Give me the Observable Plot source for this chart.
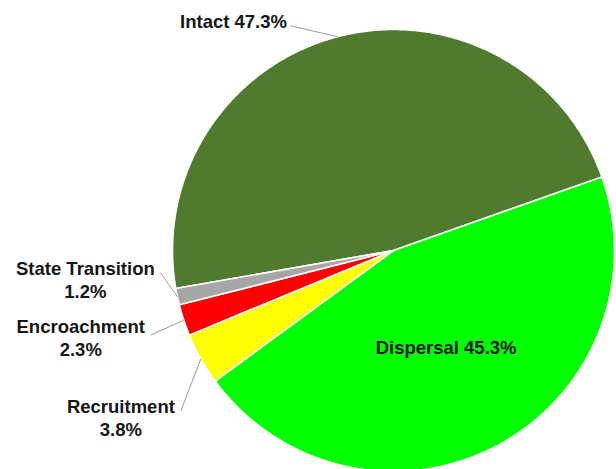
<!DOCTYPE html>
<html>
<head>
<meta charset="utf-8">
<script src="https://cdn.jsdelivr.net/npm/d3@7"></script>
<script src="https://cdn.jsdelivr.net/npm/@observablehq/plot@0.6"></script>
<style>
  html, body { margin: 0; padding: 0; background: #ffffff; overflow: hidden; }
  #chart { width: 616px; height: 469px; }
</style>
</head>
<body>
<div id="chart"></div>
<script>
// ---- data ----
const categories = ["Intact", "Dispersal", "Recruitment", "Encroachment", "State Transition"];
const percents = [47.3, 45.3, 3.8, 2.3, 1.2];
const labelTexts = ["Intact 47.3%", "Dispersal 45.3%", "Recruitment\n3.8%", "Encroachment\n2.3%", "State Transition\n1.2%"];
const sliceColors = ["#507a2e", "#00ff00", "#ffff00", "#ff0000", "#a6a6a6"];

// ---- layout ----
const W = 616, H = 469;
const CX = 393, CY = 250, R = 221;
const START_DEG = 260.1;
// label placement relative to the slice's outer midpoint, in pixels: text centre (tx,ty), leader start (lx,ly)
const labelLayout = {
  "Intact":           {tx: -104, ty: -16, lx: -47, ly: -11},
  "Recruitment":      {tx: -80,  ty: 58,  lx: -20, ly: 52},
  "Encroachment":     {tx: -103, ty: 17,  lx: -33, ly: 15},
  "State Transition": {tx: -92,  ty: -18, lx: -17, ly: -24}
};

const rows = categories.map((name, i) => ({name, value: percents[i], label: labelTexts[i]}));
const start = START_DEG * Math.PI / 180;
const arcs = d3.pie().sort(null).value(d => d.value).startAngle(start).endAngle(start + 2 * Math.PI)(rows);

// slice outlines in unit-circle coordinates (x right, y up)
const pts = [];
for (const a of arcs) {
  const name = a.data.name;
  pts.push({name, x: 0, y: 0});
  const n = Math.max(2, Math.ceil((a.endAngle - a.startAngle) / (Math.PI / 360)));
  for (let k = 0; k <= n; k++) {
    const t = a.startAngle + (a.endAngle - a.startAngle) * k / n;
    pts.push({name, x: Math.sin(t), y: Math.cos(t)});
  }
  pts.push({name, x: 0, y: 0});
}

const outside = [], inside = [], leaders = [];
for (const a of arcs) {
  const mid = (a.startAngle + a.endAngle) / 2;
  const ex = Math.sin(mid), ey = Math.cos(mid);
  const L = labelLayout[a.data.name];
  if (L) {
    outside.push({text: a.data.label, x: ex + L.tx / R, y: ey - L.ty / R});
    leaders.push({x1: ex + L.lx / R, y1: ey - L.ly / R, x2: ex, y2: ey});
  } else {
    inside.push({text: a.data.label, x: 0.5 * ex, y: 0.5 * ey});
  }
}

const font = "Liberation Sans, Arial, Helvetica, sans-serif";
const chart = Plot.plot({
  width: W,
  height: H,
  margin: 0,
  style: {background: "#ffffff", fontFamily: font},
  x: {domain: [-1, 1], range: [CX - R, CX + R], axis: null},
  y: {domain: [1, -1], range: [CY - R, CY + R], axis: null},
  color: {domain: categories, range: sliceColors},
  marks: [
    Plot.line(pts, {x: "x", y: "y", z: "name", fill: "name", stroke: "#ffffff", strokeWidth: 1.6, strokeLinejoin: "round", curve: "linear"}),
    Plot.link(leaders, {x1: "x1", y1: "y1", x2: "x2", y2: "y2", stroke: "#9a9a9a", strokeWidth: 1}),
    Plot.text(outside, {x: "x", y: "y", text: "text", fontSize: 18.5, fontWeight: "bold", lineHeight: 1.25, textAnchor: "middle", lineAnchor: "middle", fill: "#161616", fontFamily: font}),
    Plot.text(inside, {x: "x", y: "y", text: "text", fontSize: 18.5, fontWeight: "bold", textAnchor: "middle", lineAnchor: "middle", fill: "#161616", fontFamily: font, dx: 1})
  ]
});
document.getElementById("chart").appendChild(chart);
</script>
</body>
</html>
